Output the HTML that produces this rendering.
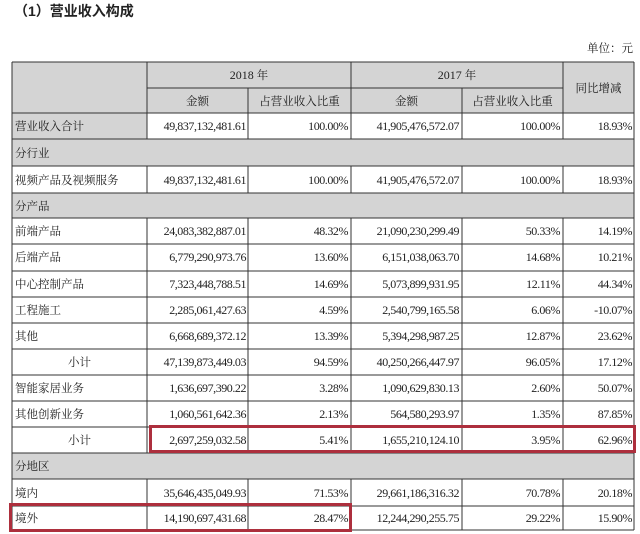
<!DOCTYPE html>
<html><head><meta charset="utf-8"><style>
html,body{margin:0;padding:0;background:#fff;}
svg{display:block;}
.cn{font-family:"Liberation Serif","Noto Serif CJK SC","Noto Sans CJK SC",serif;font-size:11.5px;fill:#222;}
.nm{font-family:"Liberation Serif",serif;font-size:12px;letter-spacing:-0.45px;fill:#222;}
.t{font-family:"Liberation Sans","Noto Sans CJK SC",sans-serif;font-size:14px;font-weight:bold;fill:#222;}
</style></head><body>
<svg width="640" height="534" viewBox="0 0 640 534" xmlns="http://www.w3.org/2000/svg">
<rect width="640" height="534" fill="#fff"/>
<text class="t" x="14" y="16">（1）营业收入构成</text>
<text class="cn" x="633" y="52" text-anchor="end" style="font-size:11.5px">单位：元</text>
<!-- fills -->
<g fill="#d4d4d4">
<rect x="12" y="62" width="622" height="51"/>
<rect x="12" y="113" width="135" height="26"/>
<rect x="12" y="139" width="622" height="27"/>
<rect x="12" y="193" width="622" height="25"/>
<rect x="12" y="453" width="622" height="26"/>
</g>
<!-- lines -->
<g stroke="#333" stroke-width="1" fill="none" shape-rendering="crispEdges">
<line x1="12" y1="62" x2="634" y2="62"/>
<line x1="147" y1="88" x2="563" y2="88"/>
<line x1="12" y1="113" x2="634" y2="113"/>
<line x1="12" y1="139" x2="634" y2="139"/>
<line x1="12" y1="166" x2="634" y2="166"/>
<line x1="12" y1="193" x2="634" y2="193"/>
<line x1="12" y1="218" x2="634" y2="218"/>
<line x1="12" y1="244" x2="634" y2="244"/>
<line x1="12" y1="271" x2="634" y2="271"/>
<line x1="12" y1="297" x2="634" y2="297"/>
<line x1="12" y1="323" x2="634" y2="323"/>
<line x1="12" y1="349" x2="634" y2="349"/>
<line x1="12" y1="375" x2="634" y2="375"/>
<line x1="12" y1="401" x2="634" y2="401"/>
<line x1="12" y1="427" x2="634" y2="427"/>
<line x1="12" y1="453" x2="634" y2="453"/>
<line x1="12" y1="479" x2="634" y2="479"/>
<line x1="12" y1="506" x2="634" y2="506"/>
<line x1="12" y1="530" x2="634" y2="530"/>
<line x1="12" y1="62" x2="12" y2="530"/>
<line x1="634" y1="62" x2="634" y2="530"/>
<!-- inner verticals, skip section rows -->
<line x1="147" y1="62" x2="147" y2="139"/><line x1="147" y1="166" x2="147" y2="193"/><line x1="147" y1="218" x2="147" y2="453"/><line x1="147" y1="479" x2="147" y2="530"/>
<line x1="351" y1="62" x2="351" y2="139"/><line x1="351" y1="166" x2="351" y2="193"/><line x1="351" y1="218" x2="351" y2="453"/><line x1="351" y1="479" x2="351" y2="530"/>
<line x1="563" y1="62" x2="563" y2="139"/><line x1="563" y1="166" x2="563" y2="193"/><line x1="563" y1="218" x2="563" y2="453"/><line x1="563" y1="479" x2="563" y2="530"/>
<line x1="248" y1="88" x2="248" y2="139"/><line x1="248" y1="166" x2="248" y2="193"/><line x1="248" y1="218" x2="248" y2="453"/><line x1="248" y1="479" x2="248" y2="530"/>
<line x1="462" y1="88" x2="462" y2="139"/><line x1="462" y1="166" x2="462" y2="193"/><line x1="462" y1="218" x2="462" y2="453"/><line x1="462" y1="479" x2="462" y2="530"/>
</g>
<!-- header text -->
<text class="nm" x="249" y="79" text-anchor="middle" style="letter-spacing:0">2018 <tspan class="cn">年</tspan></text>
<text class="nm" x="457" y="79" text-anchor="middle" style="letter-spacing:0">2017 <tspan class="cn">年</tspan></text>
<text class="cn" x="197.5" y="105" text-anchor="middle">金额</text>
<text class="cn" x="299.5" y="105" text-anchor="middle">占营业收入比重</text>
<text class="cn" x="406.5" y="105" text-anchor="middle">金额</text>
<text class="cn" x="512.5" y="105" text-anchor="middle">占营业收入比重</text>
<text class="cn" x="598.5" y="92" text-anchor="middle">同比增减</text>
<!-- section labels -->
<text class="cn" x="15" y="157">分行业</text>
<text class="cn" x="15" y="210">分产品</text>
<text class="cn" x="15" y="470">分地区</text>
<!-- labels -->
<g class="cn">
<text x="15" y="130">营业收入合计</text>
<text x="15" y="184">视频产品及视频服务</text>
<text x="15" y="235">前端产品</text>
<text x="15" y="261">后端产品</text>
<text x="15" y="288">中心控制产品</text>
<text x="15" y="314">工程施工</text>
<text x="15" y="340">其他</text>
<text x="79.5" y="366" text-anchor="middle">小计</text>
<text x="15" y="392">智能家居业务</text>
<text x="15" y="418">其他创新业务</text>
<text x="79.5" y="444" text-anchor="middle">小计</text>
<text x="15" y="497">境内</text>
<text x="15" y="522">境外</text>
</g>
<!-- col 1 -->
<g class="nm" text-anchor="end">
<text x="246" y="130">49,837,132,481.61</text>
<text x="246" y="184">49,837,132,481.61</text>
<text x="246" y="235">24,083,382,887.01</text>
<text x="246" y="261">6,779,290,973.76</text>
<text x="246" y="288">7,323,448,788.51</text>
<text x="246" y="314">2,285,061,427.63</text>
<text x="246" y="340">6,668,689,372.12</text>
<text x="246" y="366">47,139,873,449.03</text>
<text x="246" y="392">1,636,697,390.22</text>
<text x="246" y="418">1,060,561,642.36</text>
<text x="246" y="444">2,697,259,032.58</text>
<text x="246" y="497">35,646,435,049.93</text>
<text x="246" y="522">14,190,697,431.68</text>
</g>
<g class="nm" text-anchor="end">
<text x="348" y="130">100.00%</text>
<text x="348" y="184">100.00%</text>
<text x="348" y="235">48.32%</text>
<text x="348" y="261">13.60%</text>
<text x="348" y="288">14.69%</text>
<text x="348" y="314">4.59%</text>
<text x="348" y="340">13.39%</text>
<text x="348" y="366">94.59%</text>
<text x="348" y="392">3.28%</text>
<text x="348" y="418">2.13%</text>
<text x="348" y="444">5.41%</text>
<text x="348" y="497">71.53%</text>
<text x="348" y="522">28.47%</text>
</g>
<g class="nm" text-anchor="end">
<text x="459" y="130">41,905,476,572.07</text>
<text x="459" y="184">41,905,476,572.07</text>
<text x="459" y="235">21,090,230,299.49</text>
<text x="459" y="261">6,151,038,063.70</text>
<text x="459" y="288">5,073,899,931.95</text>
<text x="459" y="314">2,540,799,165.58</text>
<text x="459" y="340">5,394,298,987.25</text>
<text x="459" y="366">40,250,266,447.97</text>
<text x="459" y="392">1,090,629,830.13</text>
<text x="459" y="418">564,580,293.97</text>
<text x="459" y="444">1,655,210,124.10</text>
<text x="459" y="497">29,661,186,316.32</text>
<text x="459" y="522">12,244,290,255.75</text>
</g>
<g class="nm" text-anchor="end">
<text x="560" y="130">100.00%</text>
<text x="560" y="184">100.00%</text>
<text x="560" y="235">50.33%</text>
<text x="560" y="261">14.68%</text>
<text x="560" y="288">12.11%</text>
<text x="560" y="314">6.06%</text>
<text x="560" y="340">12.87%</text>
<text x="560" y="366">96.05%</text>
<text x="560" y="392">2.60%</text>
<text x="560" y="418">1.35%</text>
<text x="560" y="444">3.95%</text>
<text x="560" y="497">70.78%</text>
<text x="560" y="522">29.22%</text>
</g>
<g class="nm" text-anchor="end">
<text x="632" y="130">18.93%</text>
<text x="632" y="184">18.93%</text>
<text x="632" y="235">14.19%</text>
<text x="632" y="261">10.21%</text>
<text x="632" y="288">44.34%</text>
<text x="632" y="314">-10.07%</text>
<text x="632" y="340">23.62%</text>
<text x="632" y="366">17.12%</text>
<text x="632" y="392">50.07%</text>
<text x="632" y="418">87.85%</text>
<text x="632" y="444">62.96%</text>
<text x="632" y="497">20.18%</text>
<text x="632" y="522">15.90%</text>
</g>
<!-- red highlight boxes -->
<g fill="none" stroke="#ad2f3d" stroke-width="3">
<rect x="150.5" y="426.5" width="484" height="25"/>
<rect x="10.5" y="504.5" width="340" height="26"/>
</g>
</svg>
</body></html>
